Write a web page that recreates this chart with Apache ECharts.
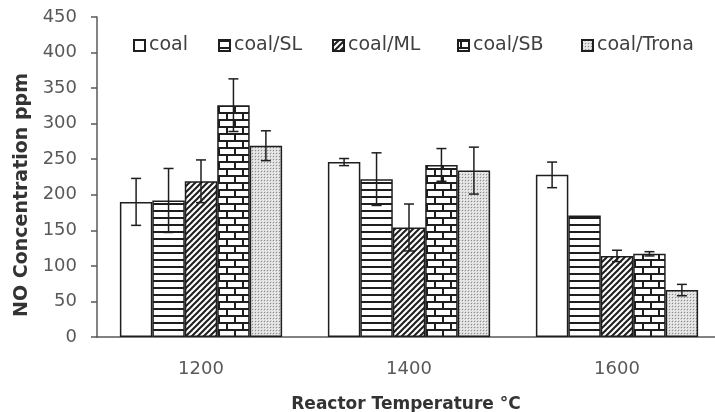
<!DOCTYPE html>
<html>
<head>
<meta charset="utf-8">
<script src="https://cdn.jsdelivr.net/npm/echarts@6/dist/echarts.min.js"></script>
<style>
  html, body { margin: 0; padding: 0; background: #fff; }
  #chart { width: 715px; height: 412px; }
</style>
</head>
<body>
<div id="chart"></div>
<script>
// Reactor temperatures (category axis)
const temperatures = ['1200', '1400', '1600'];

// Series names
const seriesNames = ['coal', 'coal/SL', 'coal/ML', 'coal/SB', 'coal/Trona'];

// Mean NO concentration (ppm) per series, one value per temperature
const coal      = [190, 246, 228];
const coalSL    = [192, 222, 171];
const coalML    = [219, 154, 114];
const coalSB    = [326, 242, 117];
const coalTrona = [269, 234, 66];

// Error-bar half-widths (ppm); 0 means no error bar drawn
const errCoal      = [33, 5, 18];
const errCoalSL    = [45, 37, 0];
const errCoalML    = [30, 33, 8];
const errCoalSB    = [37, 23, 3];
const errCoalTrona = [21, 33, 8];

// Y axis ticks
const yMin = 0, yMax = 450, yStep = 50;

const values = [coal, coalSL, coalML, coalSB, coalTrona];
const errors = [errCoal, errCoalSL, errCoalML, errCoalSB, errCoalTrona];

// ---- fill patterns -------------------------------------------------------
function makeCanvas(w, h, draw) {
  const c = document.createElement('canvas');
  c.width = w; c.height = h;
  const g = c.getContext('2d');
  draw(g, w, h);
  return c;
}
const INK = '#1e1e1e';
const AXIS = '#5a5a5a';

const patPlain = '#ffffff';

const patHoriz = makeCanvas(8, 7, (g, w, h) => {
  g.fillStyle = '#ffffff'; g.fillRect(0, 0, w, h);
  g.fillStyle = INK; g.fillRect(0, 0, w, 2);
});

const patDiag = makeCanvas(6, 6, (g, w, h) => {
  g.fillStyle = '#ffffff'; g.fillRect(0, 0, w, h);
  g.strokeStyle = INK; g.lineWidth = 2;
  for (let k = -1; k <= 1; k++) {
    g.beginPath();
    g.moveTo(k * w - 1, h + 1);
    g.lineTo(k * w + w + 1, -1);
    g.stroke();
  }
});

const patBrick = makeCanvas(16, 14, (g, w, h) => {
  g.fillStyle = '#ffffff'; g.fillRect(0, 0, w, h);
  g.fillStyle = INK;
  g.fillRect(0, 0, w, 2);
  g.fillRect(0, 7, w, 2);
  g.fillRect(2, 0, 2, 7);
  g.fillRect(10, 7, 2, 7);
});

const patDots = makeCanvas(3, 3, (g, w, h) => {
  g.fillStyle = '#d9d9d9'; g.fillRect(0, 0, w, h);
  g.fillStyle = '#8c8c8c'; g.fillRect(0, 0, 1, 1);
  g.fillStyle = '#f2f2f2'; g.fillRect(1, 1, 1, 1); g.fillRect(2, 2, 1, 1);
});

const fills = [
  patPlain,
  { image: patHoriz, repeat: 'repeat' },
  { image: patDiag, repeat: 'repeat' },
  { image: patBrick, repeat: 'repeat' },
  { image: patDots, repeat: 'repeat' }
];

// ---- layout constants ----------------------------------------------------
const CAT_GAP = 0.22;          // barCategoryGap as a fraction
const NSER = seriesNames.length;
const FONT = 'DejaVu Sans';
const legendLefts = [133, 218, 332, 457, 581];

// ---- series --------------------------------------------------------------
const barSeries = seriesNames.map((name, i) => ({
  name: name,
  type: 'bar',
  data: values[i],
  barGap: '0%',
  barCategoryGap: (CAT_GAP * 100) + '%',
  itemStyle: { color: fills[i], borderColor: INK, borderWidth: 1.5 },
  emphasis: { disabled: true },
  animation: false
}));

const errorData = [];
seriesNames.forEach((name, s) => {
  temperatures.forEach((t, c) => {
    const v = values[s][c], e = errors[s][c];
    if (e > 0) errorData.push([c, v - e, v + e, s]);
  });
});

const errorSeries = {
  type: 'custom',
  name: 'error',
  z: 10,
  animation: false,
  silent: true,
  data: errorData,
  encode: { x: 0, y: [1, 2] },
  renderItem: function (params, api) {
    const c = api.value(0), lo = api.value(1), hi = api.value(2), s = api.value(3);
    const band = api.size([1, 0])[0];
    const groupW = band * (1 - CAT_GAP);
    const bw = groupW / NSER;
    const x = api.coord([c, 0])[0] - groupW / 2 + bw * (s + 0.5);
    const yLo = api.coord([c, lo])[1];
    const yHi = api.coord([c, hi])[1];
    const cap = 5;
    const st = { stroke: INK, lineWidth: 1.5 };
    return {
      type: 'group',
      children: [
        { type: 'line', shape: { x1: x, y1: yLo, x2: x, y2: yHi }, style: st },
        { type: 'line', shape: { x1: x - cap, y1: yHi, x2: x + cap, y2: yHi }, style: st },
        { type: 'line', shape: { x1: x - cap, y1: yLo, x2: x + cap, y2: yLo }, style: st }
      ]
    };
  }
};

// one legend block per series, placed side by side
const legends = seriesNames.map((name, i) => ({
  data: [name],
  left: legendLefts[i],
  top: 36,
  padding: 0,
  itemWidth: 11,
  itemHeight: 11,
  icon: 'rect',
  selectedMode: false,
  textStyle: { fontFamily: FONT, fontSize: 19, color: '#404040', padding: [0, 0, 0, -1] }
}));

const chart = echarts.init(document.getElementById('chart'), null, { renderer: 'canvas' });
chart.setOption({
  animation: false,
  backgroundColor: '#ffffff',
  grid: { left: 97, right: -6, top: 17, bottom: 75, outerBoundsMode: 'none', containLabel: false },
  legend: legends,
  xAxis: {
    type: 'category',
    data: temperatures,
    axisLine: { show: true, lineStyle: { color: AXIS, width: 1.5 } },
    axisTick: { show: false },
    axisLabel: { fontFamily: FONT, fontSize: 18, color: '#595959', margin: 23 },
    splitLine: { show: false }
  },
  yAxis: {
    type: 'value',
    min: yMin, max: yMax, interval: yStep,
    axisLine: { show: true, lineStyle: { color: AXIS, width: 1.5 } },
    axisTick: { show: true, inside: false, length: 6, lineStyle: { color: AXIS, width: 1.5 } },
    axisLabel: { fontFamily: FONT, fontSize: 18, color: '#595959', margin: 20 },
    splitLine: { show: false }
  },
  graphic: [
    {
      type: 'text',
      x: 22, y: 195,
      rotation: Math.PI / 2,
      style: {
        text: 'NO Concentration ppm',
        font: 'bold 19px "DejaVu Sans"',
        fill: '#333333',
        textAlign: 'center',
        textVerticalAlign: 'middle'
      }
    },
    {
      type: 'text',
      x: 406, y: 405,
      style: {
        text: 'Reactor Temperature °C',
        font: 'bold 17px "DejaVu Sans"',
        fill: '#333333',
        textAlign: 'center',
        textVerticalAlign: 'middle'
      }
    }
  ],
  series: barSeries.concat([errorSeries])
});
</script>
</body>
</html>
